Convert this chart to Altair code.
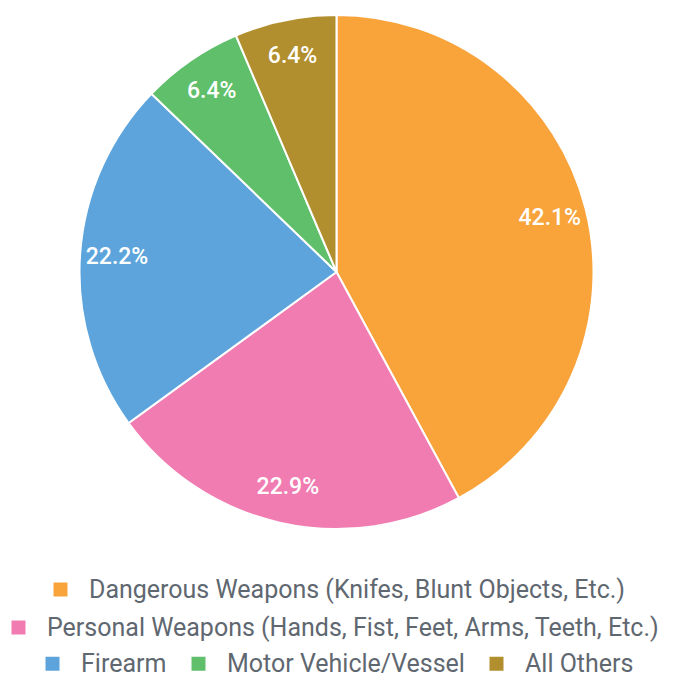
import altair as alt
import pandas as pd

categories = [
    "Dangerous Weapons (Knifes, Blunt Objects, Etc.)",
    "Personal Weapons (Hands, Fist, Feet, Arms, Teeth, Etc.)",
    "Firearm",
    "Motor Vehicle/Vessel",
    "All Others",
]
values = [42.1, 22.9, 22.2, 6.4, 6.4]
colors = ["#F9A33B", "#F07CB1", "#5CA4DB", "#5FBF6B", "#B28F2E"]
legend_rows = [[0], [1], [2, 3, 4]]

df = pd.DataFrame({"category": categories, "value": values, "idx": list(range(len(categories)))})

base = alt.Chart(df)

pie = base.mark_arc(outerRadius=257, stroke="white", strokeWidth=2).encode(
    theta=alt.Theta("value:Q", stack=True),
    color=alt.Color("category:N", scale=alt.Scale(domain=categories, range=colors), legend=None),
    order=alt.Order("idx:Q"),
)

labels = base.transform_calculate(
    label="format(datum.value, '.1f') + '%'"
).mark_text(radius=220, font="Roboto", fontSize=23, fontWeight=500, color="white").encode(
    theta=alt.Theta("value:Q", stack=True),
    order=alt.Order("idx:Q"),
    text="label:N",
)

positions = [(40, 569), (-2, 607), (32, 643)]
legend_layers = []
for row, (lx, ly) in zip(legend_rows, positions):
    cats = [categories[i] for i in row]
    cols = [colors[i] for i in row]
    legend_layers.append(
        alt.Chart(df)
        .transform_filter(alt.FieldOneOfPredicate(field="category", oneOf=cats))
        .mark_square(opacity=0, size=1)
        .encode(
            color=alt.Color(
                "category:N",
                scale=alt.Scale(domain=cats, range=cols),
                legend=alt.Legend(
                    title=None,
                    orient="none",
                    legendX=lx,
                    legendY=ly,
                    direction="horizontal",
                    symbolType="square",
                    symbolSize=196,
                    symbolOpacity=1,
                    symbolStrokeWidth=0,
                    labelFont="Roboto",
                    labelFontSize=25,
                    labelColor="#5f6770",
                    labelOffset=16,
                    columnPadding=19,
                    labelLimit=800,
                    padding=0,
                ),
            )
        )
    )

chart = (
    alt.layer(*legend_layers, pie, labels)
    .resolve_scale(color="independent")
    .properties(
        width=657,
        height=528,
        padding={"left": 0, "top": 0, "right": 0, "bottom": 144},
        autosize=alt.AutoSizeParams(type="none"),
    )
    .configure_view(strokeWidth=0)
)

chart.save("out.html", embed_options={"renderer": "svg", "actions": False})
